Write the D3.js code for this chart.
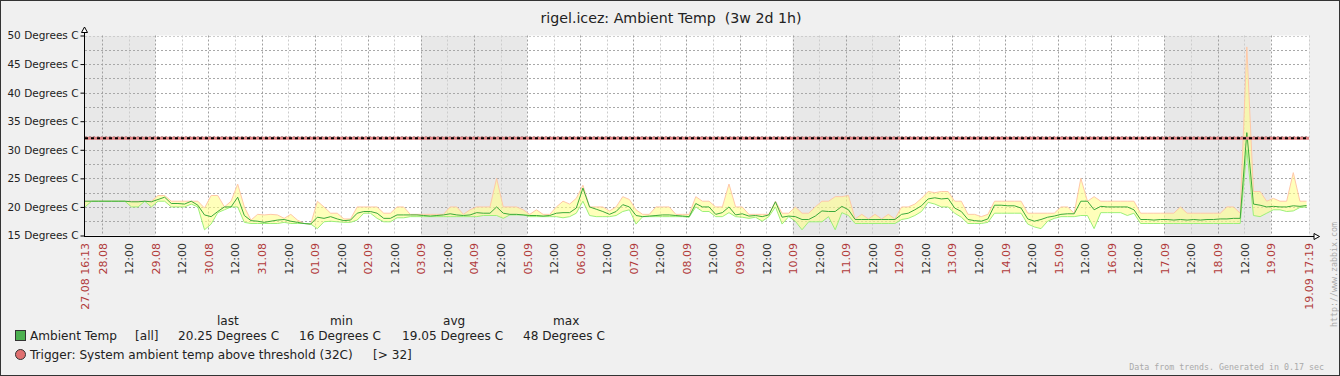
<!DOCTYPE html>
<html>
<head>
<meta charset="utf-8">
<script src="https://cdn.jsdelivr.net/npm/d3@7"></script>
<style>
body { margin: 0; background: #f0f0f0; }
svg { display: block; font-family: "DejaVu Sans", sans-serif; }
</style>
</head>
<body>
<svg></svg>
<script>
// trend samples, one every 3 hours from the start of the period
let startTime = new Date(2016, 7, 27, 16, 13)
let endTime = new Date(2016, 8, 19, 17, 19)
let stepHours = 3

let minValues = [
  20, 21, 21, 21, 21, 21, 21, 20, 20, 21, 20, 21, 21, 20, 20, 20, 20.5, 20, 16, 17,
  19, 19.5, 20, 20, 17.3, 17.1, 17.1, 17.1, 17.1, 17.1, 17.3, 17.1, 17.1, 17.1, 17, 16.2, 17.4, 17.5, 17.4, 17.3,
  17.3, 17.7, 18.9, 18.9, 18, 17.4, 17.4, 18.1, 18.1, 18.3, 18.3, 18.3, 18.3, 18.3, 18.3, 18.3, 18.3, 18.3, 18.3, 18.3,
  18.5, 18.5, 18.5, 18, 18.6, 18.6, 18.6, 18.3, 18.3, 18.3, 18.3, 18.3, 18.1, 18.3, 18.9, 21, 18.5, 18.3, 18.3, 18.3,
  18.5, 19.2, 19.5, 17, 18.3, 18.3, 18.3, 18.3, 18.3, 18.3, 18.3, 18.2, 20, 19.2, 19.2, 18.3, 18.3, 19, 18.3, 18.2,
  18, 18.2, 17.5, 18.3, 20, 17, 18.3, 17.5, 16, 17.4, 17.4, 17.4, 18.3, 16, 19, 18.5, 17.1, 17.1, 17.1, 17.1,
  17.1, 17.1, 17.1, 17.8, 18, 18.5, 19.2, 20.8, 20.5, 20, 20, 18.9, 18.2, 17.1, 17.1, 17.1, 17.3, 18.9, 18.9, 18.9,
  18.9, 18.9, 17, 16.5, 16.2, 17.5, 18, 18.3, 18.3, 18.3, 18.5, 18.5, 16.2, 19, 19, 19, 19, 18.5, 18.9, 17.1,
  17.1, 17.1, 17.1, 17.1, 17.1, 17.1, 17.1, 17.1, 17.1, 17.1, 17.1, 17.1, 17.1, 17.1, 17.1, 30, 18.5, 18.3, 18.9, 19.5,
  19.5, 19.2, 19.3, 19.9, 20
]
let avgValues = [
  21, 21, 21, 21, 21, 21, 21, 20.9, 20.9, 21, 20.9, 21.3, 21.7, 20.6, 20.6, 20.5, 21, 20.3, 18.6, 18.3,
  19.2, 20, 20, 21.7, 18.5, 17.6, 17.5, 17.3, 17.5, 17.7, 17.8, 17.5, 17.3, 17.1, 17, 18.2, 18, 18.3, 17.9, 17.6,
  17.7, 18.9, 19.2, 19.2, 18.9, 18, 18, 18.6, 18.6, 18.6, 18.6, 18.5, 18.4, 18.5, 18.6, 18.8, 18.6, 18.5, 18.6, 19,
  18.9, 18.9, 20, 18.9, 18.7, 18.7, 18.6, 18.5, 18.5, 18.4, 18.5, 18.9, 19, 19, 19.8, 23.3, 20, 19.6, 19.2, 18.7,
  19.2, 20.4, 20, 18.5, 18.3, 18.4, 18.5, 18.6, 18.6, 18.5, 18.4, 18.3, 20.6, 20, 20, 18.7, 19, 20, 18.6, 18.8,
  18.4, 18.5, 18.3, 18.6, 20.9, 18.2, 18.4, 18.3, 17.8, 17.8, 18.4, 19.3, 19.2, 19.2, 20.1, 19.5, 17.8, 17.8, 17.8, 17.8,
  17.8, 17.8, 17.8, 18.7, 18.9, 19.5, 20.2, 21.4, 21.6, 21.4, 21.5, 19.8, 19.2, 17.8, 17.6, 17.5, 17.9, 20.3, 20.3, 20.2,
  20.2, 19.8, 17.9, 17.5, 17.8, 18.2, 18.4, 18.7, 18.8, 18.8, 21, 21, 19.5, 20.1, 20, 20, 20, 20, 19.5, 17.8,
  17.8, 17.7, 17.8, 17.8, 17.7, 17.8, 17.7, 17.8, 17.7, 17.8, 17.8, 17.9, 17.9, 18, 18, 33, 20.5, 20.3, 20, 20.1,
  20, 20, 20.2, 20.1, 20.25
]
let maxValues = [
  21, 21, 21, 21, 21, 21, 21, 21, 21, 21, 21, 22, 22, 21, 21, 21, 21, 21, 19.8, 22,
  22, 20, 21, 24, 20, 17.7, 18.7, 18.6, 18.7, 18.6, 18, 18.7, 17.7, 17.1, 17, 21, 20, 18.9, 18.9, 17.9,
  17.9, 20, 20, 20, 20, 18.9, 18.9, 20, 20, 18.7, 18.7, 18.7, 18.7, 18.7, 18.7, 20, 20, 18.7, 19.5, 20,
  20, 20, 25, 20, 20, 20, 19.5, 18.7, 19.5, 18.7, 18.7, 20, 21, 20.5, 21.5, 23.8, 20, 20, 20, 19.3,
  20, 21.8, 21.3, 19.5, 18.7, 18.7, 20, 20, 20, 18.7, 18.7, 18.7, 21.8, 21, 21, 20, 20, 24, 20, 20,
  18.7, 18.7, 18.7, 18.7, 21, 18.9, 18.9, 20, 18.9, 18.9, 20, 21, 21, 21.8, 21.8, 22, 17.9, 18.7, 17.9, 18.7,
  17.9, 18.7, 17.9, 20, 20, 20.5, 21.5, 22.7, 22.5, 22.7, 22.7, 21, 21, 18.7, 18.7, 18.3, 18.7, 21, 21, 21,
  21, 21, 18.9, 18.9, 18.9, 18.9, 18.9, 20, 20, 18.9, 25, 21, 21.8, 21, 21, 21, 21, 21, 21, 18.9,
  18.9, 18.9, 18.9, 18.9, 18.9, 20, 18.9, 18.9, 18.9, 18.9, 18.9, 18.9, 20, 20, 18.9, 48, 22.7, 22.7, 21, 21.5,
  21, 21, 26, 21, 21
]

let yTicks = [15, 20, 25, 30, 35, 40, 45, 50]
let yGrid = [17.5, 20, 22.5, 25, 27.5, 30, 32.5, 35, 37.5, 40, 42.5, 45, 47.5]
let weekendStarts = ['2016-08-27', '2016-09-03', '2016-09-10', '2016-09-17']
let threshold = 32

let title = 'rigel.icez: Ambient Temp  (3w 2d 1h)'
let itemName = 'Ambient Temp'
let legendHeaders = ['last', 'min', 'avg', 'max']
let legendValues = ['20.25 Degrees C', '16 Degrees C', '19.05 Degrees C', '48 Degrees C']
let triggerText = 'Trigger: System ambient temp above threshold (32C)'
let triggerCond = '[> 32]'

let width = 1340
let height = 376
let plotLeft = 85
let plotRight = 1309
let plotTop = 35.5
let plotBottom = 235.5

let svg = d3.select('svg')
let xScale
let yScale
let data

let drawCanvas = () => {
  svg.attr('width', width).attr('height', height)
  svg.append('rect')
     .attr('x', 0.5).attr('y', 0.5)
     .attr('width', width - 1).attr('height', height - 1)
     .attr('fill', '#f0f0f0')
     .attr('stroke', '#333')
  svg.append('text')
     .attr('x', 671).attr('y', 23)
     .attr('text-anchor', 'middle')
     .attr('font-size', '14.2px')
     .attr('fill', '#222')
     .style('white-space', 'pre')
     .text(title)
}

let generateScales = () => {
  xScale = d3.scaleTime().domain([startTime, endTime]).range([plotLeft, plotRight])
  yScale = d3.scaleLinear().domain([15, 50]).range([plotBottom, plotTop])
  data = avgValues.map((v, i) => ({
    t: new Date(startTime.getTime() + i * stepHours * 3600e3),
    min: minValues[i],
    avg: v,
    max: maxValues[i]
  }))
}

let drawBackground = () => {
  svg.append('rect')
     .attr('x', plotLeft).attr('y', plotTop)
     .attr('width', plotRight - plotLeft).attr('height', plotBottom - plotTop)
     .attr('fill', '#fff')

  let parse = d3.timeParse('%Y-%m-%d')
  svg.append('g')
     .selectAll('rect')
     .data(weekendStarts)
     .enter()
     .append('rect')
     .attr('x', d => xScale(d3.max([parse(d), startTime])))
     .attr('width', d => xScale(d3.timeDay.offset(parse(d), 2)) - xScale(d3.max([parse(d), startTime])))
     .attr('y', plotTop)
     .attr('height', plotBottom - plotTop)
     .attr('fill', '#e8e8e8')
}

let xTicks = () => {
  let ticks = d3.timeHour.every(12).range(startTime, endTime)
                .filter(t => endTime - t > 6 * 3600e3)
  return [startTime].concat(ticks, [endTime])
}

let drawGrid = () => {
  let g = svg.append('g').attr('stroke-dasharray', '2,2').attr('fill', 'none')

  g.selectAll('.hgrid')
   .data(yGrid)
   .enter()
   .append('line')
   .attr('x1', plotLeft).attr('x2', plotRight)
   .attr('y1', d => Math.round(yScale(d)) + 0.5)
   .attr('y2', d => Math.round(yScale(d)) + 0.5)
   .attr('stroke', '#a8a8a8')

  g.append('line')
   .attr('x1', plotLeft).attr('x2', plotRight)
   .attr('y1', Math.round(yScale(50)) + 0.5).attr('y2', Math.round(yScale(50)) + 0.5)
   .attr('stroke', '#cccccc')

  g.selectAll('.vgrid')
   .data(xTicks().slice(1))
   .enter()
   .append('line')
   .attr('x1', d => Math.round(xScale(d)) + 0.5)
   .attr('x2', d => Math.round(xScale(d)) + 0.5)
   .attr('y1', plotTop).attr('y2', plotBottom)
   .attr('stroke', d => (d.getHours() == 0 && d.getMinutes() == 0) ? '#a0a0a0' : '#cccccc')
}

let drawSeries = () => {
  let area = d3.area()
               .x(d => xScale(d.t))
               .y0(d => yScale(d.min))
               .y1(d => yScale(d.max))
  let line = key => d3.line().x(d => xScale(d.t)).y(d => yScale(d[key]))

  svg.append('path').datum(data)
     .attr('d', area)
     .attr('fill', 'rgb(255,255,140)')
     .attr('fill-opacity', 0.6)
  svg.append('path').datum(data)
     .attr('d', line('max'))
     .attr('fill', 'none')
     .attr('stroke', '#ffc8a8')
  svg.append('path').datum(data)
     .attr('d', line('min'))
     .attr('fill', 'none')
     .attr('stroke', '#9cf07a')
  svg.append('path').datum(data)
     .attr('d', line('avg'))
     .attr('fill', 'none')
     .attr('stroke', '#3caa3c')
}

let drawThreshold = () => {
  let y = yScale(threshold)
  svg.append('line')
     .attr('x1', plotLeft).attr('x2', plotRight)
     .attr('y1', y).attr('y2', y)
     .attr('stroke', '#e08080')
     .attr('stroke-width', 3)
  svg.append('line')
     .attr('x1', plotLeft).attr('x2', plotRight)
     .attr('y1', y).attr('y2', y)
     .attr('stroke', '#000')
     .attr('stroke-width', 2)
     .attr('stroke-dasharray', '3,3')
}

let generateAxis = () => {
  let yAxis = d3.axisLeft(yScale)
                .tickValues(yTicks)
                .tickSize(4)
                .tickPadding(2)
                .tickFormat(d => d + ' Degrees C')
  let ya = svg.append('g')
              .attr('transform', 'translate(84.5,0)')
              .call(yAxis)
  ya.select('.domain').remove()
  ya.selectAll('text').attr('font-size', '10.5px').attr('fill', '#222').attr('font-family', 'DejaVu Sans')
  ya.selectAll('line').attr('stroke', '#000')

  let fmt = d => {
    if (+d == +startTime || +d == +endTime) return d3.timeFormat('%d.%m %H:%M')(d)
    if (d.getHours() == 0) return d3.timeFormat('%d.%m')(d)
    return d3.timeFormat('%H:%M')(d)
  }
  let xAxis = d3.axisBottom(xScale)
                .tickValues(xTicks())
                .tickSize(0)
                .tickFormat(fmt)
  let xa = svg.append('g')
              .attr('transform', 'translate(0,236.5)')
              .call(xAxis)
  xa.select('.domain').remove()
  xa.selectAll('text')
    .attr('transform', 'rotate(-90)')
    .attr('text-anchor', 'end')
    .attr('x', -6.5)
    .attr('y', 0)
    .attr('dy', '0.36em')
    .attr('font-size', '11px')
    .attr('font-family', 'DejaVu Sans')
    .attr('fill', d => (d.getHours() == 12 && d.getMinutes() == 0) ? '#333' : '#b03a3a')

  // axis lines with hollow arrows
  svg.append('line')
     .attr('x1', 84.5).attr('x2', 84.5)
     .attr('y1', 32).attr('y2', 237)
     .attr('stroke', '#000')
  svg.append('line')
     .attr('x1', 84).attr('x2', 1314)
     .attr('y1', 236.5).attr('y2', 236.5)
     .attr('stroke', '#000')
  svg.append('path')
     .attr('d', 'M81.5,32.5 L84.5,27 L87.5,32.5 Z')
     .attr('fill', '#fff').attr('stroke', '#000')
  svg.append('path')
     .attr('d', 'M1314,233.5 L1319.5,236.5 L1314,239.5 Z')
     .attr('fill', '#fff').attr('stroke', '#000')
}

let drawLegend = () => {
  let g = svg.append('g').attr('font-size', '12.1px').attr('fill', '#222')
  let headX = [217, 330, 443, 553]
  let valX = [178, 299, 402, 523]

  g.selectAll('.head')
   .data(legendHeaders)
   .enter()
   .append('text')
   .attr('x', (d, i) => headX[i])
   .attr('y', 325)
   .text(d => d)

  g.append('rect')
   .attr('x', 15.5).attr('y', 330.5)
   .attr('width', 10).attr('height', 10)
   .attr('fill', '#4cb050').attr('stroke', '#333')
  g.append('text').attr('x', 30).attr('y', 340).text(itemName)
  g.append('text').attr('x', 135).attr('y', 340).text('[all]')

  g.selectAll('.val')
   .data(legendValues)
   .enter()
   .append('text')
   .attr('x', (d, i) => valX[i])
   .attr('y', 340)
   .text(d => d)

  g.append('circle')
   .attr('cx', 20.5).attr('cy', 354.5).attr('r', 5)
   .attr('fill', '#e07070').attr('stroke', '#333')
  g.append('text').attr('x', 30).attr('y', 359).text(triggerText)
  g.append('text').attr('x', 373).attr('y', 359).text(triggerCond)

  svg.append('text')
     .attr('x', 1324).attr('y', 370)
     .attr('text-anchor', 'end')
     .attr('font-family', 'DejaVu Sans Mono, monospace')
     .attr('font-size', '8.3px')
     .attr('fill', '#aaa')
     .text('Data from trends. Generated in 0.17 sec')

  svg.append('text')
     .attr('transform', 'translate(1337,327) rotate(-90)')
     .attr('font-family', 'DejaVu Sans Mono, monospace')
     .attr('font-size', '8.3px')
     .attr('fill', '#aaa')
     .text('http://www.zabbix.com')
}

drawCanvas()
generateScales()
drawBackground()
drawGrid()
drawSeries()
drawThreshold()
generateAxis()
drawLegend()
</script>
</body>
</html>
